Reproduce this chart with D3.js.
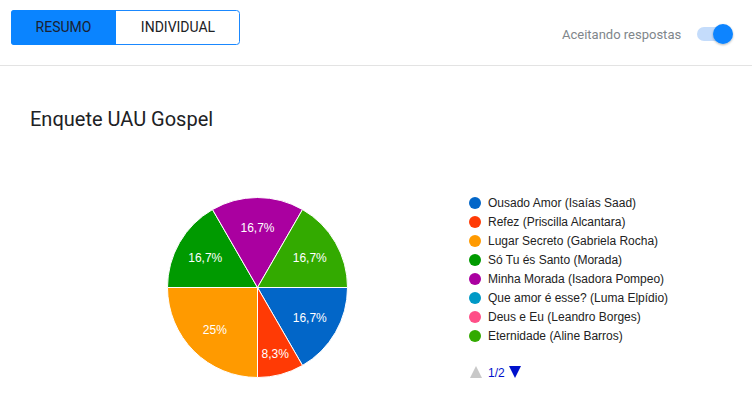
<!DOCTYPE html>
<html><head><meta charset="utf-8">
<script src="https://cdn.jsdelivr.net/npm/d3@7"></script>
<style>
html,body{margin:0;padding:0;background:#fff;overflow:hidden;}
</style></head>
<body>
<svg id="c" width="752" height="398"></svg>
<script>
const categories = ["Ousado Amor (Isaías Saad)","Refez (Priscilla Alcantara)","Lugar Secreto (Gabriela Rocha)","Só Tu és Santo (Morada)","Minha Morada (Isadora Pompeo)","Que amor é esse? (Luma Elpídio)","Deus e Eu (Leandro Borges)","Eternidade (Aline Barros)"];
const votes = [2,1,3,2,2,0,0,2];
const colors = ["#0266c8","#ff3a05","#ff9a00","#009a00","#aa00a0","#0099c6","#ff4f88","#33aa00"];
const title = "Enquete UAU Gospel";

const svg = d3.select("#c");
const font = "Roboto, 'Noto Sans', sans-serif";
const afont = "'Liberation Sans', Arial, sans-serif";

// header tabs
svg.append("rect").attr("x",11.5).attr("y",10.5).attr("width",228).attr("height",34).attr("rx",3)
  .attr("fill","#fff").attr("stroke","#1a88ff");
svg.append("path").attr("d","M116,10 V45 H14 a3,3 0 0 1 -3,-3 V13 a3,3 0 0 1 3,-3 Z").attr("fill","#0a84ff");
svg.append("text").attr("x",63.5).attr("y",32).attr("text-anchor","middle").attr("font-family",font)
  .attr("font-size",14).attr("fill","#1b2130").text("RESUMO");
svg.append("text").attr("x",178).attr("y",32).attr("text-anchor","middle").attr("font-family",font)
  .attr("font-size",14).attr("fill","#202124").text("INDIVIDUAL");

svg.append("text").attr("x",562).attr("y",39).attr("font-family",font)
  .attr("font-size",13).attr("fill","#80868b").text("Aceitando respostas");
const defs = svg.append("defs");
const f = defs.append("filter").attr("id","sh").attr("x","-50%").attr("y","-50%").attr("width","200%").attr("height","200%");
f.append("feDropShadow").attr("dx",0).attr("dy",1).attr("stdDeviation",1).attr("flood-color","#000").attr("flood-opacity",0.3);
svg.append("rect").attr("x",697).attr("y",27).attr("width",34).attr("height",14).attr("rx",7).attr("fill","#c4dcfb");
svg.append("circle").attr("cx",723).attr("cy",34).attr("r",10).attr("fill","#0a84ff").attr("filter","url(#sh)");

svg.append("line").attr("x1",0).attr("x2",752).attr("y1",65.5).attr("y2",65.5).attr("stroke","#e3e3e3");

svg.append("text").attr("x",30).attr("y",126).attr("font-family",font).attr("font-size",20)
  .attr("fill","#202124").text(title);

// pie
const cx = 257.5, cy = 287.5, R = 90;
const total = d3.sum(votes);
const pie = d3.pie().sort(null).value(d=>d.v).startAngle(Math.PI/2).endAngle(Math.PI/2+2*Math.PI);
const data = pie(categories.map((c,i)=>({c, v:votes[i], col:colors[i]})));
const arc = d3.arc().innerRadius(0).outerRadius(R);
const g = svg.append("g").attr("transform",`translate(${cx},${cy})`);
g.selectAll("path").data(data.filter(d=>d.data.v>0)).join("path")
  .attr("d",arc).attr("fill",d=>d.data.col).attr("stroke","#fff").attr("stroke-width",1);
const fmt = v => { const p = v/total*100; const s = (Math.round(p*10)/10).toString().replace(".",","); return s+"%"; };
g.selectAll("text").data(data.filter(d=>d.data.v>0)).join("text")
  .each(function(d){
    const a = (d.startAngle+d.endAngle)/2;
    const span = d.endAngle-d.startAngle;
    const lr = span < Math.PI/4 ? R*0.76 : R*0.67;
    d3.select(this).attr("x",Math.sin(a)*lr).attr("y",-Math.cos(a)*lr);
  })
  .attr("text-anchor","middle").attr("dy","0.36em").attr("font-family",afont).attr("font-size",12)
  .attr("fill","#fff").text(d=>fmt(d.data.v));

// legend
const lg = svg.append("g");
const row = lg.selectAll("g").data(categories).join("g")
  .attr("transform",(d,i)=>`translate(475,${203+i*19})`);
row.append("circle").attr("r",6).attr("fill",(d,i)=>colors[i]);
row.append("text").attr("x",13).attr("dy","0.36em").attr("font-family",afont).attr("font-size",12)
  .attr("fill","#222").text(d=>d);

// pagination
svg.append("path").attr("d","M470,378 L476,366 L482,378 Z").attr("fill","#c8c8c8");
svg.append("text").attr("x",488).attr("y",377).attr("font-family",afont).attr("font-size",12)
  .attr("fill","#0011cc").text("1/2");
svg.append("path").attr("d","M509,366 L521,366 L515,378 Z").attr("fill","#0011cc");
</script>
</body></html>
